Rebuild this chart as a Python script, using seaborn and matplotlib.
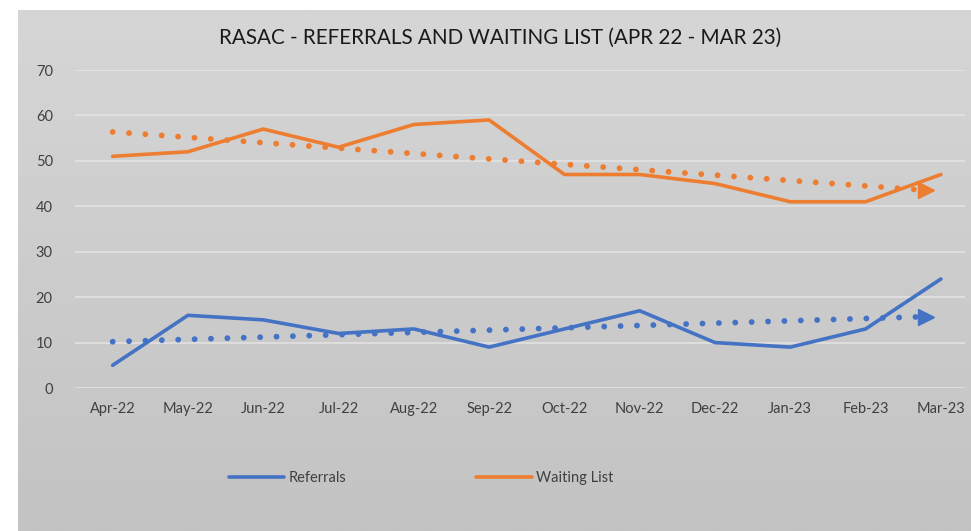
import numpy as np
import pandas as pd
import seaborn as sns
from matplotlib import pyplot as plt
from matplotlib.colors import LinearSegmentedColormap

# Monthly figures
months = ["Apr-22", "May-22", "Jun-22", "Jul-22", "Aug-22", "Sep-22",
          "Oct-22", "Nov-22", "Dec-22", "Jan-23", "Feb-23", "Mar-23"]
referrals = [5, 16, 15, 12, 13, 9, 13, 17, 10, 9, 13, 24]
waiting_list = [51, 52, 57, 53, 58, 59, 47, 47, 45, 41, 41, 47]

BLUE = "#4472C4"
ORANGE = "#ED7D31"
TEXT = "#404040"

sns.set_theme(style="white")
plt.rcParams["font.family"] = ["Lato", "DejaVu Sans"]

df = pd.DataFrame({"idx": range(len(months)), "month": months,
                   "Referrals": referrals, "Waiting List": waiting_list})

fig = plt.figure(figsize=(9.71, 5.31), dpi=100, facecolor="white")

# Grey gradient chart area (white strip on the left and top as in screenshot)
bg = fig.add_axes([18 / 971, 0, 1 - 18 / 971, 1 - 10 / 531])
grad = np.linspace(0, 1, 256).reshape(-1, 1)
cmap = LinearSegmentedColormap.from_list("g", ["#d6d6d6", "#c3c3c3"])
bg.imshow(grad, aspect="auto", cmap=cmap, extent=[0, 1, 0, 1])
bg.set_axis_off()

ax = fig.add_axes([75 / 971, 143 / 531, 890 / 971, 318 / 531])
ax.set_facecolor("none")

# Main series
sns.lineplot(data=df, x="idx", y="Referrals", color=BLUE, lw=2.6, ax=ax,
             label="Referrals")
sns.lineplot(data=df, x="idx", y="Waiting List", color=ORANGE, lw=2.6, ax=ax,
             label="Waiting List")

# Linear trendlines (dotted, with arrowhead)
for col, c in [("Referrals", BLUE), ("Waiting List", ORANGE)]:
    slope, icpt = np.polyfit(df["idx"], df[col], 1)
    xs = np.array([0, 10.72])
    ax.plot(xs, icpt + slope * xs, color=c, lw=4.2,
            linestyle=(0, (0.01, 2.8)), dash_capstyle="round", zorder=3)
    ax.plot([10.8], [icpt + slope * 10.8], marker=">", ms=12, color=c,
            mec=c, zorder=3, lw=0)

ax.set_xlim(-0.5, 11.32)
ax.set_ylim(0, 70)
ax.set_yticks(range(0, 71, 10))
ax.set_xticks(range(len(months)))
ax.set_xticklabels(months)
ax.set_xticks(np.arange(-0.5, 11.5, 1), minor=True)
ax.grid(axis="y", color="#e4e4e4", lw=1.1)
ax.tick_params(axis="both", which="major", length=0, labelsize=10.5,
               labelcolor=TEXT)
ax.tick_params(axis="y", pad=16)
ax.tick_params(axis="x", pad=10)
ax.tick_params(axis="x", which="minor", length=5, color="#e4e4e4",
               direction="out")
for s in ax.spines.values():
    s.set_visible(False)
ax.set_xlabel("")
ax.set_ylabel("")

fig.text(0.515, 1 - 38 / 531, "RASAC - REFERRALS AND WAITING LIST (APR 22 - MAR 23)",
         ha="center", va="center", fontsize=14.9, color="#1a1a1a")

ax.legend(loc="center", bbox_to_anchor=(421 / 971, 1 - 478 / 531),
          bbox_transform=fig.transFigure, ncol=2, frameon=False,
          fontsize=10.5, handlelength=3.8, handletextpad=0.3,
          columnspacing=8.9, labelcolor=TEXT)

fig.savefig("out.png", dpi=100, facecolor="white")
